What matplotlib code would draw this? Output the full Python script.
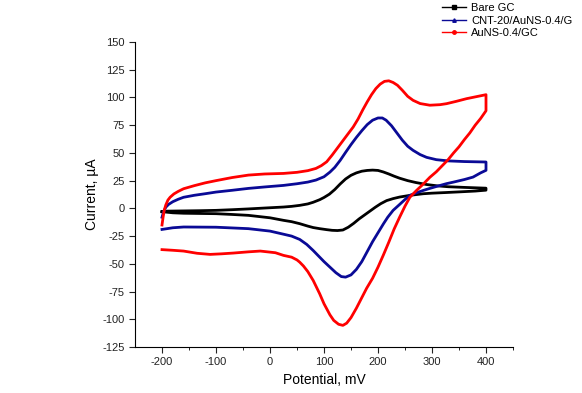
import matplotlib
matplotlib.use("Agg")
import matplotlib.pyplot as plt
from matplotlib.lines import Line2D

plt.rcParams["font.family"] = ["Liberation Sans", "DejaVu Sans"]
plt.rcParams["axes.unicode_minus"] = False

# ── data (potential mV, current µA) ─────────────────────────────────────────
# each loop: forward scan -200 -> 400, then reverse 400 -> -200
bare_v = [-200, -195, -190, -175, -160, -130, -100, -70, -40, -10, 25, 40, 55, 70, 80,
          92, 100, 110, 120, 130, 140, 150, 160, 170, 180, 190, 200, 210, 220, 230,
          240, 255, 270, 290, 310, 330, 360, 400,
          400, 380, 352, 327, 300, 284, 260, 240, 228, 216, 205, 195, 185, 175, 165,
          155, 145, 135, 125, 115, 105, 92, 80, 70, 55, 40, 25, 0, -40, -70, -100,
          -130, -160, -180, -200]
bare_i = [-3, -2.8, -2.5, -2.4, -2.3, -2.1, -1.8, -1.2, -0.5, 0.3, 1.2, 1.8, 2.7, 4, 5.5,
          7.8, 9.8, 12.8, 17, 22, 26.5, 29.8, 32, 33.5, 34.2, 34.5, 34.2, 32.8, 31, 29,
          27.2, 25, 23.3, 21.5, 20.3, 19.5, 18.9, 18.2,
          16.4, 15.6, 14.9, 14.3, 13.7, 13.2, 11.8, 10.2, 8.8, 7, 4.2, 1, -2.5, -6, -9.5,
          -13.5, -17, -19.5, -20, -19.8, -19.2, -18.3, -17.3, -16, -13.8, -12, -10.8, -8.5,
          -6.3, -5.5, -4.8, -4.6, -4.4, -4, -3]

cnt_v = [-200, -197, -193, -188, -180, -170, -160, -140, -120, -100, -70, -40, -10, 25,
         50, 70, 85, 100, 111, 120, 130, 140, 150, 160, 170, 180, 190, 200, 208, 215,
         225, 235, 245, 255, 265, 278, 290, 308, 330, 360, 400,
         400, 390, 376, 360, 340, 327, 310, 296, 284, 270, 259, 250, 240, 228, 218, 210,
         200, 190, 180, 170, 160, 150, 140, 132, 122, 111, 100, 92, 80, 68, 55, 40, 25,
         0, -40, -100, -160, -180, -200]
cnt_i = [-8, -3, 1, 3.5, 6, 8.2, 10, 11.8, 13.2, 14.7, 16.3, 18, 19.3, 20.7,
         22.2, 23.7, 25.5, 28.5, 32.7, 37, 43.3, 50.5, 57.5, 64, 70, 75.5, 79.5, 81.5, 81.5, 79.5,
         74.5, 68, 61.5, 56, 52.3, 48.5, 46, 43.9, 42.8, 42.2, 41.8,
         34.3, 32, 28.2, 26, 23.7, 22.3, 20, 18, 16.2, 13.8, 11.7, 8, 3.5, -1.8, -8, -14,
         -22, -30, -39, -48, -55, -60, -62, -61.5, -58, -53, -48, -44, -38, -32.5, -28, -25, -23.3,
         -20.5, -18.3, -17, -16.8, -17.5, -19]

aunp_v = [-200, -198, -196, -193, -189, -185, -178, -170, -160, -140, -120, -100, -70, -40,
          -10, 25, 50, 70, 85, 95, 105, 115, 125, 135, 145, 154, 163, 172, 180, 188, 196,
          204, 212, 220, 228, 236, 245, 255, 265, 278, 296, 315, 327, 345, 364, 385, 400,
          400, 390, 380, 370, 360, 350, 340, 330, 320, 308, 296, 284, 271, 259, 250, 240,
          230, 220, 210, 200, 190, 179, 170, 160, 150, 142, 135, 127, 118, 111, 100, 92,
          80, 70, 62, 55, 50, 40, 25, 10, -18, -40, -68, -90, -111, -135, -160, -180, -200]
aunp_i = [-15, -8, -2, 3, 7.5, 10, 13, 15.3, 17.7, 20.5, 23, 25, 27.8, 30,
          31, 31.5, 32.5, 34, 36, 38.5, 42, 48, 54.5, 61, 67.5, 73.3, 80.5, 89, 96, 102.5, 108,
          112, 114.5, 115, 113.5, 111, 106.5, 101, 97.4, 94.5, 93, 93.5, 94.4, 96.5, 98.9, 101, 102.5,
          88, 81, 75, 68, 62, 55.5, 50, 44, 39, 33, 28, 22, 16, 10, 2, -8,
          -18.5, -30.5, -42, -53, -63, -72, -80.5, -90, -98.5, -103.5, -105.5, -104.5, -101, -96, -86, -77,
          -65, -57, -52, -48.5, -46.5, -44, -42.4, -40, -38.5, -39.2, -40.3, -41, -41.5, -40.5, -38.5,
          -37.8, -37.2]

labels = ["Bare GC", "CNT-20/AuNS-0.4/G", "AuNS-0.4/GC"]
colors = ["black", "#0a0a96", "#ff0000"]
markers = ["s", "^", "o"]

fig = plt.figure(figsize=(5.82, 3.93), dpi=100)
ax = fig.add_axes([135 / 582, 1 - 347 / 393, (513 - 135) / 582, (347 - 42) / 393])

for v, i, c in [(bare_v, bare_i, colors[0]), (cnt_v, cnt_i, colors[1]), (aunp_v, aunp_i, colors[2])]:
    ax.plot(v, i, color=c, lw=2.0, solid_joinstyle="round")

ax.set_xlim(-250, 450)
ax.set_ylim(-125, 150)
ax.set_xticks(range(-200, 401, 100))
ax.set_xticks(range(-150, 451, 100), minor=True)
ax.set_yticks(range(-125, 151, 25))
for s in ("top", "right"):
    ax.spines[s].set_visible(False)
ax.tick_params(axis="both", which="major", direction="out", length=4, labelsize=8, colors="#222222")
ax.tick_params(axis="x", which="minor", direction="out", length=2.5)
ax.set_xlabel("Potential, mV", fontsize=10)
ax.set_ylabel("Current, µA", fontsize=10, labelpad=2)

handles = [Line2D([], [], color=c, lw=1, marker=m, markersize=2.5) for c, m in zip(colors, markers)]
fig.legend(handles, labels, loc="upper left", bbox_to_anchor=(438 / 582, 1.003), frameon=False,
           fontsize=8, handlelength=2.1, labelspacing=0.22, handletextpad=0.5, borderaxespad=0)

fig.savefig("out.png", dpi=100)
